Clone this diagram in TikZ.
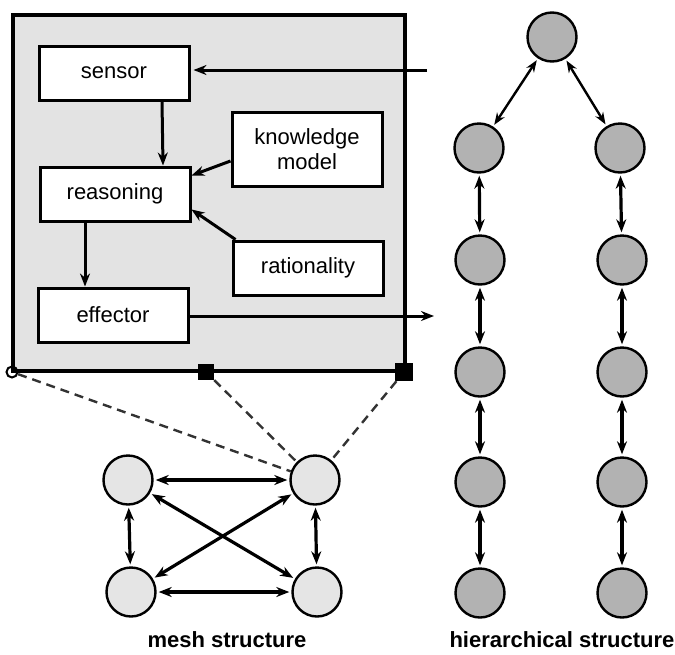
\documentclass[tikz,border=0pt]{standalone}
\usepackage{fontspec}
\setmainfont{Liberation Sans}
\usepackage{tikz}
\usetikzlibrary{arrows.meta}

\begin{document}
\begin{tikzpicture}
[x=1pt,y=-1pt
,mod/.style={draw,fill=white,line width=3pt,minimum width=150pt,minimum height=54pt,align=center,font=\fontsize{22}{25}\selectfont,inner sep=0pt}
,agentbox/.style={draw,fill=gray!22,line width=3.4pt,minimum width=392pt,minimum height=356pt,inner sep=0pt}
,ar/.style={line width=3pt,arrows={-Stealth[length=13pt,width=10pt]}}
,dar/.style={line width=3.2pt,shorten >=2pt,shorten <=2pt,arrows={Stealth[length=13pt,width=10pt]-Stealth[length=13pt,width=10pt]}}
,tar/.style={line width=2.4pt,shorten >=2pt,shorten <=2pt,arrows={Stealth[length=12pt,width=9pt]-Stealth[length=12pt,width=9pt]}}
,mn/.style={circle,draw,line width=2.4pt,fill=gray!20,minimum size=49pt,inner sep=0pt}
,hn/.style={mn,fill=gray!60}
,sq/.style={fill=black,inner sep=0pt}
,lnk/.style={line width=2.4pt,dash pattern=on 9pt off 6pt,black!80}
,captxt/.style={font=\fontsize{22}{25}\selectfont\bfseries}]
\useasboundingbox (0,0) rectangle (675,654);
% agent
\node[agentbox] (agent) at (209,193) {};
\node[mod] (sensor) at (114,73) {sensor};
\node[mod] (reas) at (115,194) {reasoning};
\node[mod] (eff) at (113,315) {effector};
\node[mod,minimum height=74pt] (know) at (307,149) {knowledge\\model};
\node[mod] (rat) at (308,268) {rationality};
\coordinate (in) at (427,70);
\coordinate (out) at (434,316);
\draw[ar] (in) -- ([xshift=3pt]in -| sensor.east);
\draw[ar] (eff.east |- out) -- (out);
\draw[ar] ([xshift=48pt]sensor.south) -- ([xshift=48pt]reas.north);
\draw[ar] ([xshift=-30pt]reas.south) -- ([xshift=-28pt]eff.north);
\draw[ar] ([yshift=-12pt]know.west) -- ([yshift=-10pt]reas.north east);
\draw[ar] ([xshift=4pt]rat.north west) -- ([yshift=13pt]reas.south east);
% ports
\node[sq,minimum size=16pt] (p1) at (206,372) {};
\node[sq,minimum size=18pt] (p2) at (404,372) {};
\node[circle,draw,line width=2pt,minimum size=11pt,inner sep=0pt] (p0) at (12,372) {};
% mesh
\node[mn] (m1) at (128,480) {};
\node[mn] (m2) at (315,480) {};
\node[mn] (m3) at (131,592) {};
\node[mn] (m4) at (317,592) {};
\draw[lnk] (p0) -- (m2);
\draw[lnk] (p1) -- (m2);
\draw[lnk] (p2) -- (m2);
\draw[dar] (m1) -- (m2);
\draw[dar] (m3) -- (m4);
\draw[dar] (m1) -- (m3);
\draw[dar] (m2) -- (m4);
\draw[dar] (m1) -- (m4);
\draw[dar] (m2) -- (m3);
\node[captxt] (mcap) at (227,640) {mesh structure};
% hierarchy
\node[hn] (h0) at (552,37) {};
\node[hn] (a1) at (479,148) {};
\node[hn] (a2) at (480,260) {};
\node[hn] (a3) at (480,372) {};
\node[hn] (a4) at (480,482) {};
\node[hn] (a5) at (480,593) {};
\node[hn] (b1) at (620,148) {};
\node[hn] (b2) at (622,260) {};
\node[hn] (b3) at (622,372) {};
\node[hn] (b4) at (622,482) {};
\node[hn] (b5) at (622,593) {};
\draw[tar] (h0) -- (a1);
\draw[tar] (h0) -- (b1);
\draw[dar] (a1) -- (a2);
\draw[dar] (a2) -- (a3);
\draw[dar] (a3) -- (a4);
\draw[dar] (a4) -- (a5);
\draw[dar] (b1) -- (b2);
\draw[dar] (b2) -- (b3);
\draw[dar] (b3) -- (b4);
\draw[dar] (b4) -- (b5);
\node[captxt] (hcap) at (562,640) {hierarchical structure};
\end{tikzpicture}
\end{document}
